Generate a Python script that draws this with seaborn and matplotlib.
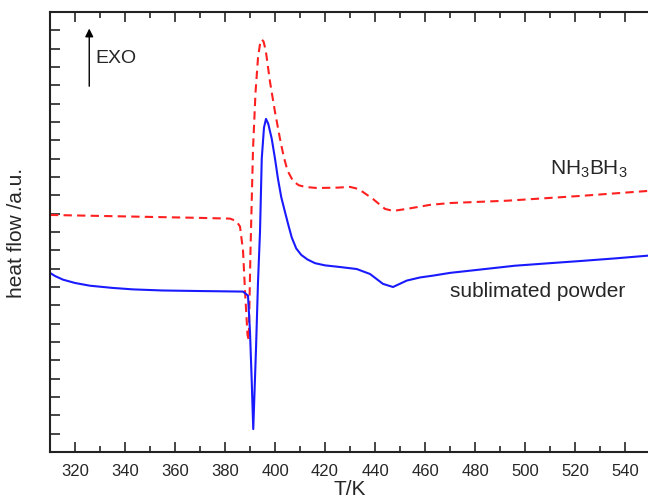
import numpy as np
import pandas as pd
import matplotlib
matplotlib.use("Agg")
import matplotlib.pyplot as plt
import seaborn as sns

# DSC curves (heat flow in arbitrary units)
t_nh3bh3 = [310, 340, 370, 382, 384.5, 386, 387.2, 388, 389, 389.5, 390.2, 391.2, 392.2,
            393.2, 394.1, 394.7, 395.4, 396.3, 398, 400, 402, 403.5, 405, 407.2, 409.5,
            412, 416.7, 425, 430, 433, 435.2, 439.2, 444, 447.2, 452.7, 462, 470,
            493.2, 522.4, 549.2]
hf_nh3bh3 = [12.93, 12.85, 12.77, 12.73, 12.6, 12.3, 11.0, 8.8, 6.4, 6.1, 11.0, 16.5, 19.6,
             21.5, 22.35, 22.5, 22.4, 21.9, 20.19, 18.55, 17.08, 16.1, 15.35, 14.78, 14.55,
             14.46, 14.40, 14.42, 14.46, 14.36, 14.18, 13.80, 13.26, 13.15, 13.26, 13.48, 13.58,
             13.71, 13.97, 14.24]

t_subl = [310, 312, 315.2, 320, 326, 335, 343.2, 355, 370, 387.2, 389.2, 390, 390.7, 391.3,
          392.4, 393.2, 394, 394.7, 395.6, 396.4, 397.3, 398.7, 400, 401.2, 402.5, 404,
          405.5, 406.7, 408.5, 410.5, 413, 416, 420, 426, 432.7, 438, 443.2, 447.2,
          452.7, 458, 463.2, 470, 482, 495.9, 510, 522.4, 536, 549.2]
hf_subl = [9.77, 9.6, 9.40, 9.22, 9.07, 8.95, 8.87, 8.81, 8.78, 8.75, 8.53, 6.55, 3.82, 1.25,
           5.62, 9.27, 12.0, 16.0, 17.7, 18.17, 17.9, 17.08, 16.0, 14.89, 13.9, 13.09,
           12.3, 11.7, 11.1, 10.75, 10.5, 10.3, 10.18, 10.09, 9.98, 9.71, 9.17, 9.00,
           9.35, 9.52, 9.62, 9.77, 9.95, 10.16, 10.3, 10.42, 10.56, 10.71]

x_ticks = [320, 340, 360, 380, 400, 420, 440, 460, 480, 500, 520, 540]

sns.set_style("ticks")
plt.rcParams['font.family'] = ['Liberation Sans', 'DejaVu Sans']
plt.rcParams['mathtext.fontset'] = 'custom'
plt.rcParams['mathtext.rm'] = 'Liberation Sans'
plt.rcParams['mathtext.default'] = 'regular'

fig = plt.figure(figsize=(6.48, 5.02), dpi=100)
ax = fig.add_axes([50 / 648, 1 - 453 / 502, 600 / 648, 440 / 502])

df_a = pd.DataFrame({'T': t_nh3bh3, 'hf': hf_nh3bh3})
df_b = pd.DataFrame({'T': t_subl, 'hf': hf_subl})
sns.lineplot(data=df_a, x='T', y='hf', ax=ax, color='#ff2020', lw=1.5,
             linestyle=(0, (4, 2.5)), sort=False)
sns.lineplot(data=df_b, x='T', y='hf', ax=ax, color='#1a1aff', lw=1.5, sort=False)

ax.set_xlim(310, 550)
ax.set_ylim(0, 24)
ax.set_xticks(x_ticks)
ax.set_xticks(np.arange(310, 551, 10), minor=True)
ax.set_yticks(np.arange(1, 24, 1))
ax.set_yticklabels([])
ax.tick_params(axis='x', which='major', direction='in', length=7, width=1.2,
               labelsize=12, top=True, pad=8)
ax.tick_params(axis='x', which='minor', direction='in', length=4, width=1.2, top=True)
ax.tick_params(axis='y', direction='in', length=7, width=1.2, left=True, right=False)
for s in ax.spines.values():
    s.set_linewidth(1.5)
    s.set_color('#222222')

ax.set_xlabel('T/K', fontsize=15, labelpad=1)
ax.set_ylabel('heat flow /a.u.', fontsize=15, labelpad=14)

ax.annotate('', xy=(325.7, 23.25), xytext=(325.7, 19.8),
            arrowprops=dict(arrowstyle='-|>', color='black', lw=1, mutation_scale=12))
ax.text(328, 21.3, 'EXO', fontsize=14, va='baseline', ha='left')
ax.text(510, 15.17, 'NH$_3$BH$_3$', fontsize=15, va='baseline', ha='left')
ax.text(470, 8.53, 'sublimated powder', fontsize=15, va='baseline', ha='left')

fig.savefig('out.png', dpi=100)
